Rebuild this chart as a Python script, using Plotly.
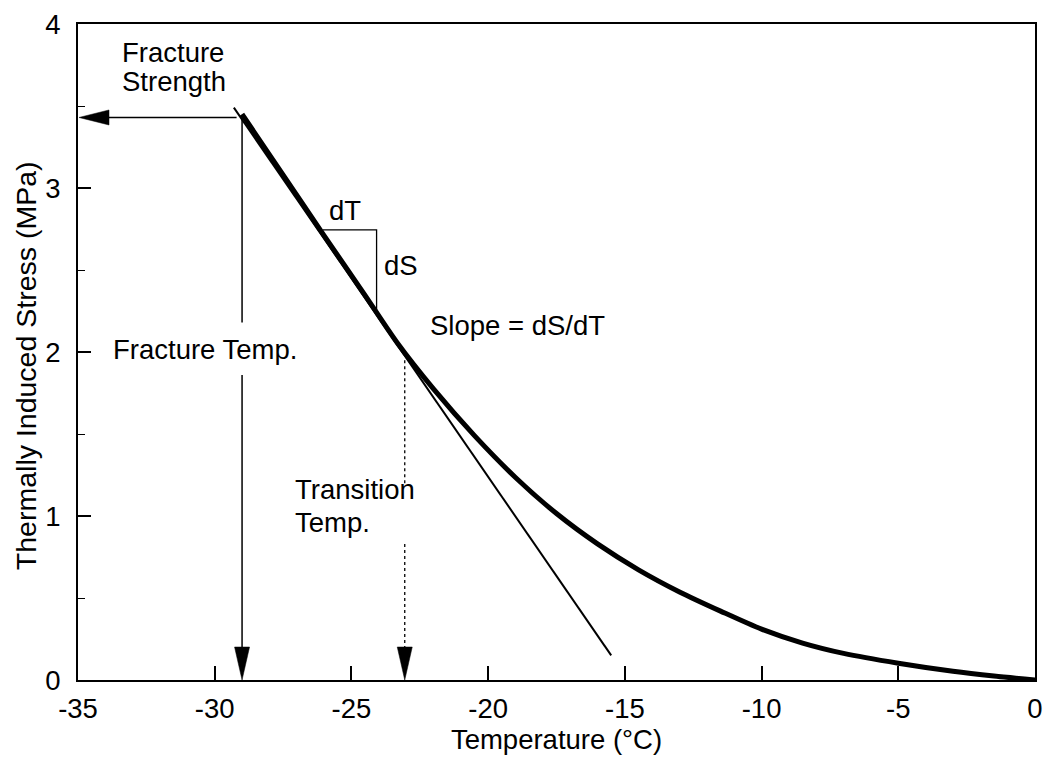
import plotly.graph_objects as go

# Measured thermally induced stress during cooling
temperature = [-29.0, -27.5, -26.0, -24.5, -23.3, -22.0, -20.5, -19.0, -17.5, -16.0,
               -14.5, -13.0, -11.5, -10.0, -8.5, -7.0, -5.0, -3.0, -1.5, 0.0]
stress = [3.45, 3.08, 2.71, 2.345, 2.05, 1.775, 1.49, 1.235, 1.015, 0.83,
          0.672, 0.537, 0.42, 0.31, 0.225, 0.162, 0.102, 0.053, 0.024, 0.0]

# Tangent fitted to the linear (glassy) part of the curve
tangent_t = [-29.3, -15.5]
tangent_s = [3.49, 0.15]

# Characteristic values
fracture_temp = -29.0
fracture_strength = 3.43
transition_temp = -23.05

# Slope triangle (dT / dS) on the curve
dt_t = [-26.04, -24.08, -24.08]
dt_s = [2.745, 2.745, 2.25]

x_ticks = [-35, -30, -25, -20, -15, -10, -5, 0]
x_tick_text = ["-35", "-30", "-25", "-20", "-15", "-10", "-5", "0"]
y_ticks = [0, 1, 2, 3, 4]

FONT = "Liberation Sans, Arial, Helvetica, sans-serif"
FS = 27.5

fig = go.Figure()

fig.add_trace(go.Scatter(x=tangent_t, y=tangent_s, mode="lines",
                         line=dict(color="black", width=2), hoverinfo="skip"))
fig.add_trace(go.Scatter(x=dt_t, y=dt_s, mode="lines",
                         line=dict(color="black", width=1.3), hoverinfo="skip"))
fig.add_trace(go.Scatter(x=temperature, y=stress, mode="lines",
                         line=dict(color="black", width=5, shape="spline", smoothing=0.8),
                         cliponaxis=False, hoverinfo="skip"))

# Fracture strength: horizontal arrow to the stress axis
fig.add_trace(go.Scatter(x=[fracture_temp - 0.2, -34.0], y=[fracture_strength] * 2,
                         mode="lines", line=dict(color="black", width=1.5), hoverinfo="skip"))
# Fracture temperature: vertical arrow broken around its label
fig.add_trace(go.Scatter(x=[fracture_temp] * 2, y=[fracture_strength, 2.18],
                         mode="lines", line=dict(color="black", width=1.5), hoverinfo="skip"))
fig.add_trace(go.Scatter(x=[fracture_temp] * 2, y=[1.86, 0.1],
                         mode="lines", line=dict(color="black", width=1.5), hoverinfo="skip"))
# Transition temperature: dotted vertical arrow broken around its label
fig.add_trace(go.Scatter(x=[transition_temp] * 2, y=[1.95, 1.20],
                         mode="lines", line=dict(color="black", width=1.3, dash="dot"),
                         hoverinfo="skip"))
fig.add_trace(go.Scatter(x=[transition_temp] * 2, y=[0.83, 0.1],
                         mode="lines", line=dict(color="black", width=1.3, dash="dot"),
                         hoverinfo="skip"))


def head(xv, yv, path):
    return dict(type="path", xref="x", yref="y", xsizemode="pixel", ysizemode="pixel",
                xanchor=xv, yanchor=yv, path=path, fillcolor="black",
                line=dict(color="black", width=0.5), layer="above")


shapes = [
    head(-35.0, fracture_strength, "M 1 0 L 31 7.5 L 31 -7.5 Z"),
    head(fracture_temp, 0.0, "M 0 0 L -7.5 33 L 7.5 33 Z"),
    head(transition_temp, 0.0, "M 0 0 L -7.5 33 L 7.5 33 Z"),
]


def label(text, x, y):
    return dict(text=text, x=x, y=y, xref="x", yref="y", xanchor="left", yanchor="middle",
                showarrow=False, font=dict(family=FONT, size=FS, color="black"))


annotations = [
    label("Fracture", -33.45, 3.825),
    label("Strength", -33.45, 3.65),
    label("Fracture Temp.", -33.8, 2.015),
    label("Transition", -27.12, 1.16),
    label("Temp.", -27.12, 0.96),
    label("dT", -25.9, 2.86),
    label("dS", -23.87, 2.53),
    label("Slope = dS/dT", -22.2, 2.16),
    # stress axis title
    dict(text="Thermally Induced Stress (MPa)", x=-0.055, y=0.479, xref="paper", yref="paper",
         xanchor="center", yanchor="middle", textangle=-90, showarrow=False,
         font=dict(family=FONT, size=28.5, color="black")),
]

fig.update_layout(
    width=1052, height=763,
    margin=dict(l=78, r=9, t=18, b=83),
    paper_bgcolor="white", plot_bgcolor="white",
    showlegend=False,
    font=dict(family=FONT, size=FS, color="black"),
    shapes=shapes,
    annotations=annotations,
    xaxis=dict(
        range=[-35, 0], tickmode="array", tickvals=x_ticks, ticktext=x_tick_text,
        ticks="inside", ticklen=14, tickwidth=1.5, tickcolor="black",
        showline=True, linecolor="black", linewidth=1.8, mirror=True,
        showgrid=False, zeroline=False, ticklabelstandoff=3,
        title=dict(text="Temperature (°C)", font=dict(family=FONT, size=FS), standoff=0),
    ),
    yaxis=dict(
        range=[0, 4], tickmode="array", tickvals=y_ticks,
        ticks="inside", ticklen=13, tickwidth=1.5, tickcolor="black",
        minor=dict(dtick=0.5, ticks="inside", ticklen=7, tickwidth=1.3, tickcolor="black"),
        showline=True, linecolor="black", linewidth=1.8, mirror=True,
        showgrid=False, zeroline=False, ticklabelstandoff=10,
    ),
)

fig.write_html("out.html")
